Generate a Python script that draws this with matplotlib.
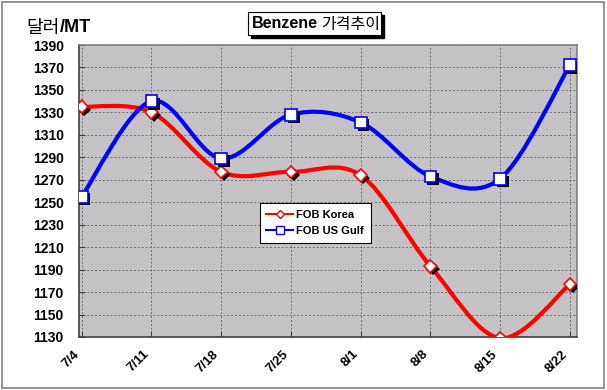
import matplotlib
matplotlib.use("Agg")
import matplotlib.pyplot as plt
import numpy as np
from matplotlib.path import Path
from matplotlib.patches import PathPatch, Rectangle
import matplotlib.patheffects as pe

plt.rcParams['font.family'] = ['Liberation Sans', 'Noto Sans CJK KR', 'DejaVu Sans']

dates = ['7/4', '7/11', '7/18', '7/25', '8/1', '8/8', '8/15', '8/22']
fob_korea = [1335, 1330, 1277, 1277, 1274, 1193, 1129, 1177]
fob_us_gulf = [1255, 1340, 1289, 1328, 1321, 1273, 1271, 1372]
yticks = list(range(1130, 1391, 20))

fig = plt.figure(figsize=(6.07, 3.90), dpi=100)
fig.patch.set_facecolor('white')
# outer border
fig.add_artist(Rectangle((0.003, 0.004), 0.992, 0.99, transform=fig.transFigure,
                         fill=False, edgecolor='#808080', linewidth=1.2))

ax = fig.add_axes([0.130, 0.1359, 0.8204, 0.7487])
ax.set_facecolor('#C6C3C6')
x = np.arange(len(dates))


def smooth_path(xs, ys, t=1/6):
    xs = np.asarray(xs, float); ys = np.asarray(ys, float)
    n = len(xs)
    verts = [(xs[0], ys[0])]
    codes = [Path.MOVETO]
    for i in range(n - 1):
        i0 = max(i - 1, 0); i3 = min(i + 2, n - 1)
        c1 = (xs[i] + (xs[i + 1] - xs[i0]) * t, ys[i] + (ys[i + 1] - ys[i0]) * t)
        c2 = (xs[i + 1] - (xs[i3] - xs[i]) * t, ys[i + 1] - (ys[i3] - ys[i]) * t)
        verts += [c1, c2, (xs[i + 1], ys[i + 1])]
        codes += [Path.CURVE4] * 3
    return Path(verts, codes)


for vals, col, mk, ms, lab in [(fob_korea, '#FF0000', 'D', 6.5, 'FOB Korea'),
                               (fob_us_gulf, '#0000FF', 's', 8.5, 'FOB US Gulf')]:
    ax.add_patch(PathPatch(smooth_path(x, vals), facecolor='none', edgecolor=col,
                           linewidth=3, zorder=3))
    ax.plot(x, vals, linestyle='none', marker=mk, markersize=ms,
            markerfacecolor='white', markeredgecolor=col, markeredgewidth=1.2, zorder=4,
            path_effects=[pe.SimplePatchShadow(offset=(2, -2), shadow_rgbFace='black', alpha=1),
                          pe.Normal()])
    ax.plot([], [], color=col, linewidth=1.5, marker=mk, markersize=ms - 2.5,
            markerfacecolor='white', markeredgecolor=col, label=lab)

ax.set_xlim(-0.04, 7.1)
ax.set_ylim(1130, 1390)
ax.set_yticks(yticks)
ax.set_xticks(x)
ax.set_xticklabels(dates, rotation=45, ha='right', va='top', fontsize=9.5, fontweight='bold')
for lbl in ax.get_yticklabels():
    lbl.set_fontsize(10)
    lbl.set_fontweight('bold')
ax.tick_params(axis='both', direction='in', length=4, color='#404040')
ax.tick_params(axis='y', pad=11)
ax.tick_params(axis='x', pad=8)
ax.grid(True, color='#6E6E6E', linestyle=(0, (2, 2)), linewidth=0.7)
ax.set_axisbelow(True)
for s in ax.spines.values():
    s.set_color('#808080')
    s.set_linewidth(1.2)
ax.spines['left'].set_color('#404040')
ax.spines['bottom'].set_color('#404040')

leg = ax.legend(loc='upper left', bbox_to_anchor=(0.363, 0.459), frameon=True, borderaxespad=0,
                fancybox=False, edgecolor='black', facecolor='white', framealpha=1,
                prop={'size': 8, 'weight': 'bold'}, handlelength=2.4, handletextpad=0.3,
                borderpad=0.6, labelspacing=0.6)
leg.get_frame().set_linewidth(0.8)

# y unit label
fig.text(26 / 607, 1 - 28 / 390, '달러', fontsize=13, ha='left', va='center',
         family=['Noto Sans CJK KR'])
fig.text(60 / 607, 1 - 28 / 390, '/MT', fontsize=13, ha='left', va='center', fontweight='bold')

# title box with shadow
fig.add_artist(Rectangle((251 / 607, 1 - 38 / 390), 133 / 607, 23 / 390, transform=fig.transFigure,
                         facecolor='black', edgecolor='black'))
fig.add_artist(Rectangle((248 / 607, 1 - 35 / 390), 133 / 607, 23 / 390, transform=fig.transFigure,
                         facecolor='white', edgecolor='black', linewidth=0.8))
fig.text(252 / 607, 1 - 24 / 390, 'Benzene', fontsize=11.5, fontweight='bold', ha='left', va='center')
fig.text(321 / 607, 1 - 24 / 390, '가격추이', fontsize=11.5, ha='left', va='center',
         family=['Noto Sans CJK KR'])

fig.savefig('out.png', dpi=100)
